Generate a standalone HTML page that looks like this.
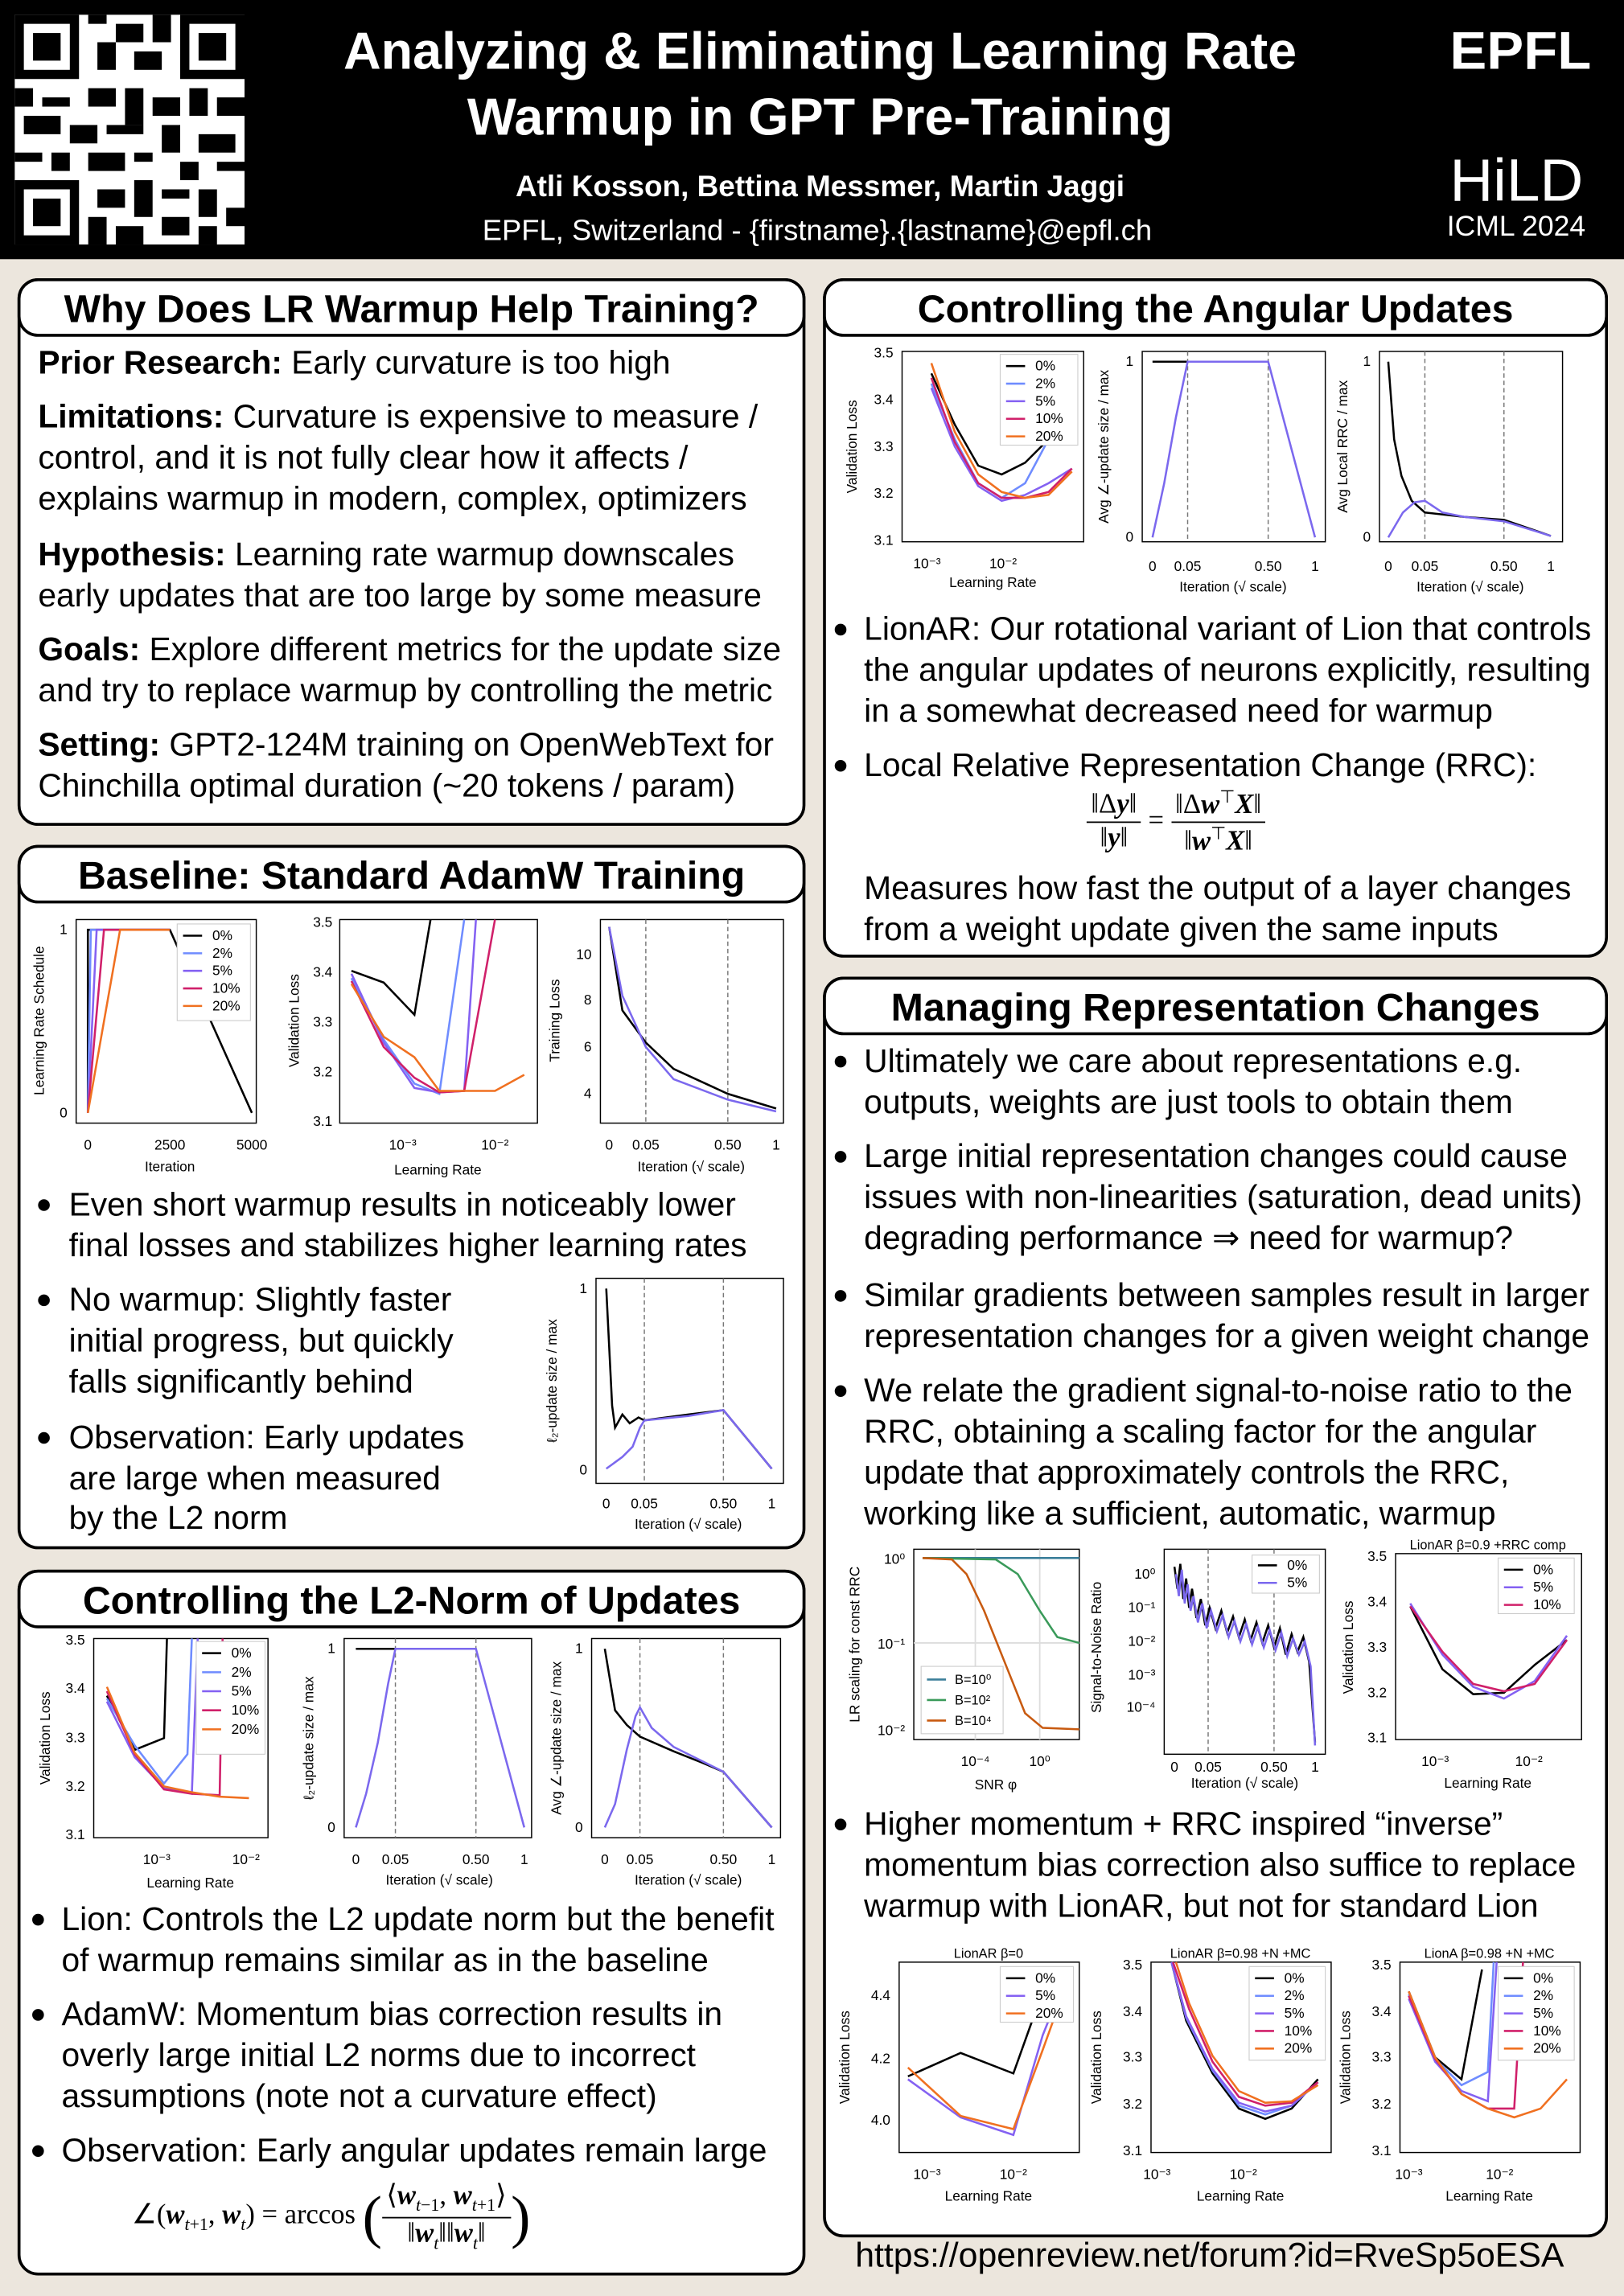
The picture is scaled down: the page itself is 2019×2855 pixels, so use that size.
<!DOCTYPE html>
<html><head><meta charset="utf-8"><style>
html,body{margin:0;padding:0;width:2019px;height:2855px;overflow:hidden;background:#ece6dd}
#pg{position:absolute;left:0;top:0;width:1109px;height:1568px;transform:scale(1.8206,1.8208);transform-origin:0 0;font-family:"Liberation Sans",Arial,sans-serif;color:#000}
.hdr{position:absolute;left:0;top:0;width:1109px;height:177px;background:#000}
.box{position:absolute;background:#fff;border:2px solid #000;border-radius:14px;box-sizing:border-box}
.pill{position:absolute;left:-2px;top:-2px;right:-2px;height:40px;border:2px solid #000;border-radius:14px;background:#fff;text-align:center;font-weight:bold;font-size:26.5px;line-height:38px;box-sizing:border-box}
.l{position:absolute;font-size:22.4px;line-height:28px;white-space:nowrap}
.b{position:absolute;width:8px;height:8px;border-radius:50%;background:#000}
svg text{font-family:"Liberation Sans",Arial,sans-serif}
.frac{display:inline-block;vertical-align:middle;text-align:center}
.frac span{display:block;padding:0 3px}
.frac .n{border-bottom:1.5px solid #000}
</style></head><body><div id="pg">
<div class="hdr"></div>
<svg style="position:absolute;left:10px;top:10px" width="157" height="157" viewBox="0 0 25 25">
<rect width="25" height="25" fill="#fff"/>
<g fill="#000">
<rect x="0" y="0" width="7" height="7"/><rect x="1" y="1" width="5" height="5" fill="#fff"/><rect x="2" y="2" width="3" height="3"/>
<rect x="18" y="0" width="7" height="7"/><rect x="19" y="1" width="5" height="5" fill="#fff"/><rect x="20" y="2" width="3" height="3"/>
<rect x="0" y="18" width="7" height="7"/><rect x="1" y="19" width="5" height="5" fill="#fff"/><rect x="2" y="20" width="3" height="3"/>
<rect x="8" y="0" width="2" height="1"/><rect x="11" y="1" width="3" height="2"/><rect x="15" y="0" width="2" height="3"/><rect x="9" y="3" width="2" height="3"/><rect x="13" y="4" width="3" height="2"/>
<rect x="8" y="8" width="3" height="2"/><rect x="0" y="8" width="2" height="2"/><rect x="3" y="9" width="3" height="1"/><rect x="1" y="11" width="4" height="2"/><rect x="6" y="12" width="3" height="2"/>
<rect x="12" y="8" width="2" height="4"/><rect x="15" y="9" width="3" height="2"/><rect x="19" y="8" width="2" height="3"/><rect x="22" y="9" width="3" height="2"/><rect x="10" y="12" width="4" height="1"/>
<rect x="16" y="12" width="2" height="3"/><rect x="20" y="13" width="4" height="2"/><rect x="0" y="15" width="3" height="1"/><rect x="4" y="15" width="2" height="2"/><rect x="8" y="15" width="4" height="2"/>
<rect x="13" y="15" width="2" height="1"/><rect x="18" y="16" width="2" height="2"/><rect x="22" y="16" width="3" height="1"/><rect x="9" y="19" width="3" height="2"/><rect x="13" y="18" width="2" height="4"/>
<rect x="16" y="19" width="3" height="1"/><rect x="20" y="19" width="2" height="3"/><rect x="23" y="21" width="2" height="2"/><rect x="8" y="22" width="2" height="3"/><rect x="11" y="23" width="3" height="2"/><rect x="16" y="22" width="3" height="2"/><rect x="20" y="23" width="2" height="2"/>
</g></svg>
<div style="position:absolute;left:170px;top:13px;width:780px;text-align:center;color:#fff;font-weight:bold;font-size:35.5px;line-height:45px">Analyzing &amp; Eliminating Learning Rate<br>Warmup in GPT Pre-Training</div>
<div style="position:absolute;left:170px;top:117px;width:780px;text-align:center;color:#fff;font-weight:bold;font-size:20.3px">Atli Kosson, Bettina Messmer, Martin Jaggi</div>
<div style="position:absolute;left:168px;top:147px;width:780px;text-align:center;color:#fff;font-size:20px">EPFL, Switzerland - {firstname}.{lastname}@epfl.ch</div>
<div style="position:absolute;left:990px;top:14px;color:#fff;font-weight:bold;font-size:36px;letter-spacing:0px;transform:scaleX(1.05);transform-origin:0 0">EPFL</div>
<div style="position:absolute;left:990px;top:100px;color:#fff;font-size:41px">HiLD</div>
<div style="position:absolute;left:988px;top:144px;color:#fff;font-size:19.5px">ICML 2024</div>

<div class="box" style="left:12px;top:190px;width:538px;height:374px"><div class="pill">Why Does LR Warmup Help Training?</div></div>
<div class="l" style="left:26px;top:234px"><b>Prior Research:</b> Early curvature is too high</div>
<div class="l" style="left:26px;top:271px"><b>Limitations:</b> Curvature is expensive to measure /</div>
<div class="l" style="left:26px;top:299px">control, and it is not fully clear how it affects /</div>
<div class="l" style="left:26px;top:327px">explains warmup in modern, complex, optimizers</div>
<div class="l" style="left:26px;top:365px"><b>Hypothesis:</b> Learning rate warmup downscales</div>
<div class="l" style="left:26px;top:393px">early updates that are too large by some measure</div>
<div class="l" style="left:26px;top:430px"><b>Goals:</b> Explore different metrics for the update size</div>
<div class="l" style="left:26px;top:458px">and try to replace warmup by controlling the metric</div>
<div class="l" style="left:26px;top:495px"><b>Setting:</b> GPT2-124M training on OpenWebText for</div>
<div class="l" style="left:26px;top:523px">Chinchilla optimal duration (~20 tokens / param)</div>

<div class="box" style="left:12px;top:577px;width:538px;height:481px"><div class="pill">Baseline: Standard AdamW Training</div></div>
<div class="b" style="left:26px;top:819px"></div>
<div class="l" style="left:47px;top:809px">Even short warmup results in noticeably lower</div>
<div class="l" style="left:47px;top:837px">final losses and stabilizes higher learning rates</div>
<div class="b" style="left:26px;top:884px"></div>
<div class="l" style="left:47px;top:874px">No warmup: Slightly faster</div>
<div class="l" style="left:47px;top:902px">initial progress, but quickly</div>
<div class="l" style="left:47px;top:930px">falls significantly behind</div>
<div class="b" style="left:26px;top:978px"></div>
<div class="l" style="left:47px;top:968px">Observation: Early updates</div>
<div class="l" style="left:47px;top:996px">are large when measured</div>
<div class="l" style="left:47px;top:1023px">by the L2 norm</div>

<div class="box" style="left:12px;top:1072px;width:538px;height:482px"><div class="pill">Controlling the L2-Norm of Updates</div></div>
<div class="b" style="left:22px;top:1307px"></div>
<div class="l" style="left:42px;top:1297px">Lion: Controls the L2 update norm but the benefit</div>
<div class="l" style="left:42px;top:1325px">of warmup remains similar as in the baseline</div>
<div class="b" style="left:22px;top:1372px"></div>
<div class="l" style="left:42px;top:1362px">AdamW: Momentum bias correction results in</div>
<div class="l" style="left:42px;top:1390px">overly large initial L2 norms due to incorrect</div>
<div class="l" style="left:42px;top:1418px">assumptions (note not a curvature effect)</div>
<div class="b" style="left:22px;top:1465px"></div>
<div class="l" style="left:42px;top:1455px">Observation: Early angular updates remain large</div>
<div style="position:absolute;left:90px;top:1488px;font-family:'Liberation Serif',serif;font-size:19px;white-space:nowrap">∠(<b><i>w</i></b><sub style="font-size:12px"><i>t</i>+1</sub>, <b><i>w</i></b><sub style="font-size:12px"><i>t</i></sub>) = arccos <span style="font-size:40px;vertical-align:middle">(</span><span class="frac"><span class="n">⟨<b><i>w</i></b><sub style="font-size:12px"><i>t</i>−1</sub>, <b><i>w</i></b><sub style="font-size:12px"><i>t</i>+1</sub>⟩</span><span>‖<b><i>w</i></b><sub style="font-size:12px"><i>t</i></sub>‖‖<b><i>w</i></b><sub style="font-size:12px"><i>t</i></sub>‖</span></span><span style="font-size:40px;vertical-align:middle">)</span></div>

<div class="box" style="left:562px;top:190px;width:536px;height:464px"><div class="pill">Controlling the Angular Updates</div></div>
<div class="b" style="left:570px;top:426px"></div>
<div class="l" style="left:590px;top:416px">LionAR: Our rotational variant of Lion that controls</div>
<div class="l" style="left:590px;top:444px">the angular updates of neurons explicitly, resulting</div>
<div class="l" style="left:590px;top:472px">in a somewhat decreased need for warmup</div>
<div class="b" style="left:570px;top:519px"></div>
<div class="l" style="left:590px;top:509px">Local Relative Representation Change (RRC):</div>
<div style="position:absolute;left:742px;top:537px;font-family:'Liberation Serif',serif;font-size:19px;white-space:nowrap"><span class="frac"><span class="n">‖Δ<b><i>y</i></b>‖</span><span>‖<b><i>y</i></b>‖</span></span> = <span class="frac"><span class="n">‖Δ<b><i>w</i></b><sup style="font-size:12px">⊤</sup><b><i>X</i></b>‖</span><span>‖<b><i>w</i></b><sup style="font-size:12px">⊤</sup><b><i>X</i></b>‖</span></span></div>
<div class="l" style="left:590px;top:593px">Measures how fast the output of a layer changes</div>
<div class="l" style="left:590px;top:621px">from a weight update given the same inputs</div>

<div class="box" style="left:562px;top:667px;width:536px;height:861px"><div class="pill">Managing Representation Changes</div></div>
<div class="b" style="left:570px;top:721px"></div>
<div class="l" style="left:590px;top:711px">Ultimately we care about representations e.g.</div>
<div class="l" style="left:590px;top:739px">outputs, weights are just tools to obtain them</div>
<div class="b" style="left:570px;top:786px"></div>
<div class="l" style="left:590px;top:776px">Large initial representation changes could cause</div>
<div class="l" style="left:590px;top:804px">issues with non-linearities (saturation, dead units)</div>
<div class="l" style="left:590px;top:832px">degrading performance ⇒ need for warmup?</div>
<div class="b" style="left:570px;top:881px"></div>
<div class="l" style="left:590px;top:871px">Similar gradients between samples result in larger</div>
<div class="l" style="left:590px;top:899px">representation changes for a given weight change</div>
<div class="b" style="left:570px;top:946px"></div>
<div class="l" style="left:590px;top:936px">We relate the gradient signal-to-noise ratio to the</div>
<div class="l" style="left:590px;top:964px">RRC, obtaining a scaling factor for the angular</div>
<div class="l" style="left:590px;top:992px">update that approximately controls the RRC,</div>
<div class="l" style="left:590px;top:1020px">working like a sufficient, automatic, warmup</div>
<div class="b" style="left:570px;top:1242px"></div>
<div class="l" style="left:590px;top:1232px">Higher momentum + RRC inspired “inverse”</div>
<div class="l" style="left:590px;top:1260px">momentum bias correction also suffice to replace</div>
<div class="l" style="left:590px;top:1288px">warmup with LionAR, but not for standard Lion</div>
<div style="position:absolute;left:558px;top:1527px;width:536px;text-align:center;font-size:23.5px">https://openreview.net/forum?id=RveSp5oESA</div>

<svg style="position:absolute;left:0;top:0" width="1109" height="1568" viewBox="0 0 1109 1568" font-size="9.5">
<style>.ax{fill:none;stroke:#000;stroke-width:.8}.d{stroke:#777;stroke-width:.8;stroke-dasharray:3 2}.ln{fill:none;stroke-width:1.4}.k{stroke:#000}.c2{stroke:#6f8cff}.c5{stroke:#8461f2}.c10{stroke:#d0206a}.c20{stroke:#f07020}.pu{stroke:#7b68ee}.lg{fill:#fff;stroke:#ccc;stroke-width:.6}</style>
<rect class="ax" x="52" y="628" width="123" height="139"/>
<text x="46" y="638" text-anchor="end">1</text><text x="46" y="763" text-anchor="end">0</text>
<text x="60" y="785" text-anchor="middle">0</text><text x="116" y="785" text-anchor="middle">2500</text><text x="172" y="785" text-anchor="middle">5000</text>
<text x="116" y="800" text-anchor="middle">Iteration</text>
<text transform="translate(30,697) rotate(-90)" text-anchor="middle">Learning Rate Schedule</text>
<polyline class="ln k" points="60,760 60,635 116,635 172,760"/>
<polyline class="ln c2" points="60,760 62,635 116,635"/>
<polyline class="ln c5" points="60,760 66,635 116,635"/>
<polyline class="ln c10" points="60,760 71,635 116,635"/>
<polyline class="ln c20" points="60,760 82,635 116,635"/>
<rect class="lg" x="121" y="631" width="50" height="66"/>
<g font-size="9.5"><line class="ln k" x1="125" y1="639" x2="138" y2="639"/><text x="145" y="642">0%</text>
<line class="ln c2" x1="125" y1="651" x2="138" y2="651"/><text x="145" y="654">2%</text>
<line class="ln c5" x1="125" y1="663" x2="138" y2="663"/><text x="145" y="666">5%</text>
<line class="ln c10" x1="125" y1="675" x2="138" y2="675"/><text x="145" y="678">10%</text>
<line class="ln c20" x1="125" y1="687" x2="138" y2="687"/><text x="145" y="690">20%</text></g>
<rect class="ax" x="232" y="628" width="135" height="139"/>
<text x="227" y="633" text-anchor="end">3.5</text><text x="227" y="667" text-anchor="end">3.4</text><text x="227" y="701" text-anchor="end">3.3</text><text x="227" y="735" text-anchor="end">3.2</text><text x="227" y="769" text-anchor="end">3.1</text>
<text x="275" y="785" text-anchor="middle">10⁻³</text><text x="338" y="785" text-anchor="middle">10⁻²</text>
<text x="299" y="802" text-anchor="middle">Learning Rate</text>
<text transform="translate(204,697) rotate(-90)" text-anchor="middle">Validation Loss</text>
<polyline class="ln k" points="240,663 262,671 283,693 294,628"/>
<polyline class="ln c2" points="240,668 262,710 283,740 300,747 317,628"/>
<polyline class="ln c5" points="240,665 262,712 283,743 300,746 317,745 325,628"/>
<polyline class="ln c10" points="240,670 262,715 283,736 300,746 317,745 338,628"/>
<polyline class="ln c20" points="240,672 262,708 283,722 300,745 317,745 338,745 358,734"/>
<rect class="ax" x="410" y="628" width="125" height="139"/>
<text x="404" y="655" text-anchor="end">10</text><text x="404" y="686" text-anchor="end">8</text><text x="404" y="718" text-anchor="end">6</text><text x="404" y="750" text-anchor="end">4</text>
<text x="416" y="785" text-anchor="middle">0</text><text x="441" y="785" text-anchor="middle">0.05</text><text x="497" y="785" text-anchor="middle">0.50</text><text x="530" y="785" text-anchor="middle">1</text>
<text x="472" y="800" text-anchor="middle">Iteration (√ scale)</text>
<text transform="translate(382,697) rotate(-90)" text-anchor="middle">Training Loss</text>
<line class="d" x1="441" y1="628" x2="441" y2="767"/><line class="d" x1="497" y1="628" x2="497" y2="767"/>
<polyline class="ln k" points="416,633 425,690 441,712 460,730 497,747 530,757"/>
<polyline class="ln pu" points="416,633 425,680 441,715 460,737 497,751 530,759"/>
<rect class="ax" x="407" y="873" width="128" height="140"/>
<text x="401" y="883" text-anchor="end">1</text><text x="401" y="1007" text-anchor="end">0</text>
<text x="414" y="1030" text-anchor="middle">0</text><text x="440" y="1030" text-anchor="middle">0.05</text><text x="494" y="1030" text-anchor="middle">0.50</text><text x="527" y="1030" text-anchor="middle">1</text>
<text x="470" y="1044" text-anchor="middle">Iteration (√ scale)</text>
<text transform="translate(380,943) rotate(-90)" text-anchor="middle">ℓ₂-update size / max</text>
<line class="d" x1="440" y1="873" x2="440" y2="1013"/><line class="d" x1="494" y1="873" x2="494" y2="1013"/>
<polyline class="ln k" points="414,880 418,960 420,975 425,966 430,972 436,968 440,970 470,966 494,963 527,1003"/>
<polyline class="ln pu" points="414,1003 425,995 432,988 437,975 440,970 470,967 494,963 527,1003"/>
<rect class="ax" x="64" y="1119" width="119" height="136"/>
<text x="58" y="1123" text-anchor="end">3.5</text><text x="58" y="1156" text-anchor="end">3.4</text><text x="58" y="1190" text-anchor="end">3.3</text><text x="58" y="1223" text-anchor="end">3.2</text><text x="58" y="1256" text-anchor="end">3.1</text>
<text x="107" y="1273" text-anchor="middle">10⁻³</text><text x="168" y="1273" text-anchor="middle">10⁻²</text>
<text x="130" y="1289" text-anchor="middle">Learning Rate</text>
<text transform="translate(34,1187) rotate(-90)" text-anchor="middle">Validation Loss</text>
<polyline class="ln k" points="73,1158 92,1195 112,1187 114,1119"/>
<polyline class="ln c2" points="73,1160 92,1192 112,1218 128,1198 131,1119"/>
<polyline class="ln c5" points="73,1162 92,1200 112,1221 131,1225 135,1119"/>
<polyline class="ln c10" points="73,1155 92,1198 112,1222 131,1225 150,1226 152,1119"/>
<polyline class="ln c20" points="73,1152 92,1197 112,1220 131,1224 150,1227 170,1228"/>
<rect class="lg" x="134" y="1121" width="47" height="77"/>
<g><line class="ln k" x1="138" y1="1129" x2="151" y2="1129"/><text x="158" y="1132">0%</text>
<line class="ln c2" x1="138" y1="1142" x2="151" y2="1142"/><text x="158" y="1145">2%</text>
<line class="ln c5" x1="138" y1="1155" x2="151" y2="1155"/><text x="158" y="1158">5%</text>
<line class="ln c10" x1="138" y1="1168" x2="151" y2="1168"/><text x="158" y="1171">10%</text>
<line class="ln c20" x1="138" y1="1181" x2="151" y2="1181"/><text x="158" y="1184">20%</text></g>
<rect class="ax" x="235" y="1119" width="128" height="136"/>
<text x="229" y="1129" text-anchor="end">1</text><text x="229" y="1251" text-anchor="end">0</text>
<text x="243" y="1273" text-anchor="middle">0</text><text x="270" y="1273" text-anchor="middle">0.05</text><text x="325" y="1273" text-anchor="middle">0.50</text><text x="358" y="1273" text-anchor="middle">1</text>
<text x="300" y="1287" text-anchor="middle">Iteration (√ scale)</text>
<text transform="translate(214,1187) rotate(-90)" text-anchor="middle">ℓ₂-update size / max</text>
<line class="d" x1="270" y1="1119" x2="270" y2="1255"/><line class="d" x1="325" y1="1119" x2="325" y2="1255"/>
<polyline class="ln k" points="243,1126 270,1126"/>
<polyline class="ln pu" points="243,1248 250,1225 258,1190 265,1150 270,1126 325,1126 358,1248"/>
<rect class="ax" x="404" y="1119" width="129" height="136"/>
<text x="398" y="1129" text-anchor="end">1</text><text x="398" y="1251" text-anchor="end">0</text>
<text x="413" y="1273" text-anchor="middle">0</text><text x="437" y="1273" text-anchor="middle">0.05</text><text x="494" y="1273" text-anchor="middle">0.50</text><text x="527" y="1273" text-anchor="middle">1</text>
<text x="470" y="1287" text-anchor="middle">Iteration (√ scale)</text>
<text transform="translate(383,1187) rotate(-90)" text-anchor="middle">Avg ∠-update size / max</text>
<line class="d" x1="437" y1="1119" x2="437" y2="1255"/><line class="d" x1="494" y1="1119" x2="494" y2="1255"/>
<polyline class="ln k" points="413,1126 420,1168 428,1178 437,1186 460,1196 480,1204 494,1210 527,1248"/>
<polyline class="ln pu" points="413,1248 420,1232 428,1195 434,1172 437,1166 445,1180 460,1193 480,1203 494,1210 527,1248"/>
<rect class="ax" x="616" y="240" width="124" height="130"/>
<text x="610" y="244" text-anchor="end">3.5</text><text x="610" y="276" text-anchor="end">3.4</text><text x="610" y="308" text-anchor="end">3.3</text><text x="610" y="340" text-anchor="end">3.2</text><text x="610" y="372" text-anchor="end">3.1</text>
<text x="633" y="388" text-anchor="middle">10⁻³</text><text x="685" y="388" text-anchor="middle">10⁻²</text>
<text x="678" y="401" text-anchor="middle">Learning Rate</text>
<text transform="translate(585,305) rotate(-90)" text-anchor="middle">Validation Loss</text>
<polyline class="ln k" points="636,255 652,290 668,318 684,324 700,316 716,300"/>
<polyline class="ln c2" points="636,262 652,300 668,330 684,340 700,330 716,300 732,282"/>
<polyline class="ln c5" points="636,265 652,305 668,332 684,342 700,338 716,330 732,320"/>
<polyline class="ln c10" points="636,258 652,302 668,330 684,340 700,340 716,336 732,320"/>
<polyline class="ln c20" points="636,248 652,295 668,324 684,336 700,340 716,338 732,322"/>
<rect class="lg" x="683" y="242" width="53" height="62"/>
<g><line class="ln k" x1="687" y1="250" x2="700" y2="250"/><text x="707" y="253">0%</text>
<line class="ln c2" x1="687" y1="262" x2="700" y2="262"/><text x="707" y="265">2%</text>
<line class="ln c5" x1="687" y1="274" x2="700" y2="274"/><text x="707" y="277">5%</text>
<line class="ln c10" x1="687" y1="286" x2="700" y2="286"/><text x="707" y="289">10%</text>
<line class="ln c20" x1="687" y1="298" x2="700" y2="298"/><text x="707" y="301">20%</text></g>
<rect class="ax" x="780" y="240" width="125" height="130"/>
<text x="774" y="250" text-anchor="end">1</text><text x="774" y="370" text-anchor="end">0</text>
<text x="787" y="390" text-anchor="middle">0</text><text x="811" y="390" text-anchor="middle">0.05</text><text x="866" y="390" text-anchor="middle">0.50</text><text x="898" y="390" text-anchor="middle">1</text>
<text x="842" y="404" text-anchor="middle">Iteration (√ scale)</text>
<text transform="translate(757,305) rotate(-90)" text-anchor="middle">Avg ∠-update size / max</text>
<line class="d" x1="811" y1="240" x2="811" y2="370"/><line class="d" x1="866" y1="240" x2="866" y2="370"/>
<polyline class="ln k" points="787,247 811,247"/>
<polyline class="ln pu" points="787,367 795,330 803,285 811,247 866,247 898,367"/>
<rect class="ax" x="942" y="240" width="125" height="130"/>
<text x="936" y="250" text-anchor="end">1</text><text x="936" y="370" text-anchor="end">0</text>
<text x="948" y="390" text-anchor="middle">0</text><text x="973" y="390" text-anchor="middle">0.05</text><text x="1027" y="390" text-anchor="middle">0.50</text><text x="1059" y="390" text-anchor="middle">1</text>
<text x="1004" y="404" text-anchor="middle">Iteration (√ scale)</text>
<text transform="translate(920,305) rotate(-90)" text-anchor="middle">Avg Local RRC / max</text>
<line class="d" x1="973" y1="240" x2="973" y2="370"/><line class="d" x1="1027" y1="240" x2="1027" y2="370"/>
<polyline class="ln k" points="948,247 952,300 957,325 964,342 973,350 1000,353 1027,355 1059,366"/>
<polyline class="ln pu" points="948,367 958,350 966,343 973,342 985,350 1000,353 1027,356 1059,366"/>
<rect class="ax" x="624" y="1058" width="113" height="130"/>
<text x="618" y="1068" text-anchor="end">10⁰</text><text x="618" y="1126" text-anchor="end">10⁻¹</text><text x="618" y="1185" text-anchor="end">10⁻²</text>
<text x="666" y="1206" text-anchor="middle">10⁻⁴</text><text x="710" y="1206" text-anchor="middle">10⁰</text>
<text x="680" y="1222" text-anchor="middle">SNR φ</text>
<text transform="translate(587,1123) rotate(-90)" text-anchor="middle">LR scaling for const RRC</text>
<line stroke="#ddd" x1="666" y1="1058" x2="666" y2="1188"/><line stroke="#ddd" x1="710" y1="1058" x2="710" y2="1188"/><line stroke="#ddd" x1="624" y1="1122" x2="737" y2="1122"/>
<polyline class="ln" stroke="#3b7f9a" points="630,1064 737,1064"/>
<polyline class="ln" stroke="#3a9a5a" points="630,1064 680,1065 695,1075 710,1100 722,1118 737,1122"/>
<polyline class="ln" stroke="#c85a10" points="630,1064 650,1065 660,1075 672,1100 688,1140 700,1170 712,1180 737,1181"/>
<rect class="lg" x="629" y="1138" width="56" height="46"/>
<g font-size="9"><line class="ln" stroke="#3b7f9a" x1="633" y1="1147" x2="646" y2="1147"/><text x="652" y="1150">B=10⁰</text>
<line class="ln" stroke="#3a9a5a" x1="633" y1="1161" x2="646" y2="1161"/><text x="652" y="1164">B=10²</text>
<line class="ln" stroke="#c85a10" x1="633" y1="1175" x2="646" y2="1175"/><text x="652" y="1178">B=10⁴</text></g>
<rect class="ax" x="795" y="1058" width="110" height="140"/>
<text x="789" y="1078" text-anchor="end">10⁰</text><text x="789" y="1101" text-anchor="end">10⁻¹</text><text x="789" y="1124" text-anchor="end">10⁻²</text><text x="789" y="1147" text-anchor="end">10⁻³</text><text x="789" y="1169" text-anchor="end">10⁻⁴</text>
<text x="802" y="1210" text-anchor="middle">0</text><text x="825" y="1210" text-anchor="middle">0.05</text><text x="870" y="1210" text-anchor="middle">0.50</text><text x="898" y="1210" text-anchor="middle">1</text>
<text x="850" y="1221" text-anchor="middle">Iteration (√ scale)</text>
<text transform="translate(752,1125) rotate(-90)" text-anchor="middle">Signal-to-Noise Ratio</text>
<line class="d" x1="825" y1="1058" x2="825" y2="1198"/><line class="d" x1="870" y1="1058" x2="870" y2="1198"/>
<polyline class="ln k" stroke-width="1" points="802,1070 804,1085 806,1068 808,1092 810,1078 812,1098 814,1085 817,1105 820,1092 823,1110 826,1098 830,1112 834,1100 838,1115 842,1104 846,1118 850,1106 854,1120 858,1108 862,1122 866,1110 870,1125 874,1112 878,1130 882,1116 886,1128 890,1118 894,1135 898,1190"/>
<polyline class="ln pu" stroke-width="1" points="803,1075 805,1090 807,1072 809,1095 811,1082 813,1100 815,1090 818,1108 821,1095 824,1112 827,1100 831,1114 835,1103 839,1118 843,1107 847,1121 851,1109 855,1123 859,1111 863,1125 867,1113 871,1127 875,1115 879,1131 883,1119 887,1130 891,1121 895,1138 898,1192"/>
<rect class="lg" x="855" y="1062" width="46" height="26"/>
<line class="ln k" x1="859" y1="1069" x2="872" y2="1069"/><text x="879" y="1072">0%</text>
<line class="ln pu" x1="859" y1="1081" x2="872" y2="1081"/><text x="879" y="1084">5%</text>
<text x="1016" y="1058" text-anchor="middle" font-size="9">LionAR β=0.9 +RRC comp</text>
<rect class="ax" x="953" y="1061" width="127" height="127"/>
<text x="947" y="1066" text-anchor="end">3.5</text><text x="947" y="1097" text-anchor="end">3.4</text><text x="947" y="1128" text-anchor="end">3.3</text><text x="947" y="1159" text-anchor="end">3.2</text><text x="947" y="1190" text-anchor="end">3.1</text>
<text x="980" y="1206" text-anchor="middle">10⁻³</text><text x="1044" y="1206" text-anchor="middle">10⁻²</text>
<text x="1016" y="1221" text-anchor="middle">Learning Rate</text>
<text transform="translate(924,1125) rotate(-90)" text-anchor="middle">Validation Loss</text>
<polyline class="ln k" points="963,1097 985,1140 1006,1157 1027,1156 1048,1137 1070,1120"/>
<polyline class="ln c5" points="963,1095 985,1130 1006,1152 1027,1160 1048,1148 1070,1117"/>
<polyline class="ln c10" points="963,1097 985,1128 1006,1150 1027,1155 1048,1150 1070,1120"/>
<rect class="lg" x="1023" y="1064" width="52" height="38"/>
<line class="ln k" x1="1027" y1="1072" x2="1040" y2="1072"/><text x="1047" y="1075">0%</text>
<line class="ln c5" x1="1027" y1="1084" x2="1040" y2="1084"/><text x="1047" y="1087">5%</text>
<line class="ln c10" x1="1027" y1="1096" x2="1040" y2="1096"/><text x="1047" y="1099">10%</text>
<text x="675" y="1337" text-anchor="middle" font-size="9">LionAR β=0</text>
<rect class="ax" x="614" y="1340" width="123" height="130"/>
<text x="608" y="1366" text-anchor="end">4.4</text><text x="608" y="1409" text-anchor="end">4.2</text><text x="608" y="1451" text-anchor="end">4.0</text>
<text x="633" y="1488" text-anchor="middle">10⁻³</text><text x="692" y="1488" text-anchor="middle">10⁻²</text>
<text x="675" y="1503" text-anchor="middle">Learning Rate</text>
<text transform="translate(580,1405) rotate(-90)" text-anchor="middle">Validation Loss</text>
<polyline class="ln k" points="620,1418 656,1402 692,1416 712,1360"/>
<polyline class="ln c5" points="620,1420 656,1446 692,1458 712,1390 730,1345"/>
<polyline class="ln c20" points="620,1412 656,1445 692,1454 712,1400 730,1350"/>
<rect class="lg" x="683" y="1343" width="50" height="38"/>
<line class="ln k" x1="687" y1="1351" x2="700" y2="1351"/><text x="707" y="1354">0%</text>
<line class="ln c5" x1="687" y1="1363" x2="700" y2="1363"/><text x="707" y="1366">5%</text>
<line class="ln c20" x1="687" y1="1375" x2="700" y2="1375"/><text x="707" y="1378">20%</text>
<text x="847" y="1337" text-anchor="middle" font-size="9">LionAR β=0.98 +N +MC</text>
<rect class="ax" x="786" y="1340" width="123" height="130"/>
<text x="780" y="1345" text-anchor="end">3.5</text><text x="780" y="1377" text-anchor="end">3.4</text><text x="780" y="1408" text-anchor="end">3.3</text><text x="780" y="1440" text-anchor="end">3.2</text><text x="780" y="1472" text-anchor="end">3.1</text>
<text x="790" y="1488" text-anchor="middle">10⁻³</text><text x="849" y="1488" text-anchor="middle">10⁻²</text>
<text x="847" y="1503" text-anchor="middle">Learning Rate</text>
<text transform="translate(752,1405) rotate(-90)" text-anchor="middle">Validation Loss</text>
<polyline class="ln k" points="800,1340 810,1380 828,1416 846,1440 864,1447 882,1440 900,1420"/>
<polyline class="ln c2" points="800,1340 810,1378 828,1414 846,1438 864,1444 882,1438 900,1422"/>
<polyline class="ln c5" points="800,1340 810,1377 828,1413 846,1436 864,1442 882,1438 900,1422"/>
<polyline class="ln c10" points="801,1340 812,1372 828,1408 846,1432 864,1438 882,1436 900,1422"/>
<polyline class="ln c20" points="803,1340 812,1368 828,1404 846,1428 864,1436 882,1435 900,1424"/>
<rect class="lg" x="853" y="1343" width="52" height="64"/>
<g><line class="ln k" x1="857" y1="1351" x2="870" y2="1351"/><text x="877" y="1354">0%</text>
<line class="ln c2" x1="857" y1="1363" x2="870" y2="1363"/><text x="877" y="1366">2%</text>
<line class="ln c5" x1="857" y1="1375" x2="870" y2="1375"/><text x="877" y="1378">5%</text>
<line class="ln c10" x1="857" y1="1387" x2="870" y2="1387"/><text x="877" y="1390">10%</text>
<line class="ln c20" x1="857" y1="1399" x2="870" y2="1399"/><text x="877" y="1402">20%</text></g>
<text x="1017" y="1337" text-anchor="middle" font-size="9">LionA β=0.98 +N +MC</text>
<rect class="ax" x="956" y="1340" width="123" height="130"/>
<text x="950" y="1345" text-anchor="end">3.5</text><text x="950" y="1377" text-anchor="end">3.4</text><text x="950" y="1408" text-anchor="end">3.3</text><text x="950" y="1440" text-anchor="end">3.2</text><text x="950" y="1472" text-anchor="end">3.1</text>
<text x="962" y="1488" text-anchor="middle">10⁻³</text><text x="1024" y="1488" text-anchor="middle">10⁻²</text>
<text x="1017" y="1503" text-anchor="middle">Learning Rate</text>
<text transform="translate(922,1405) rotate(-90)" text-anchor="middle">Validation Loss</text>
<polyline class="ln k" points="962,1360 980,1405 998,1420 1012,1345"/>
<polyline class="ln c2" points="962,1362 980,1406 998,1424 1016,1415 1020,1340"/>
<polyline class="ln c5" points="962,1365 980,1408 998,1428 1016,1435 1022,1340"/>
<polyline class="ln c10" points="962,1363 980,1406 998,1430 1016,1440 1034,1440 1040,1340"/>
<polyline class="ln c20" points="962,1360 980,1405 998,1430 1016,1440 1034,1446 1052,1440 1070,1420"/>
<rect class="lg" x="1023" y="1343" width="52" height="64"/>
<g><line class="ln k" x1="1027" y1="1351" x2="1040" y2="1351"/><text x="1047" y="1354">0%</text>
<line class="ln c2" x1="1027" y1="1363" x2="1040" y2="1363"/><text x="1047" y="1366">2%</text>
<line class="ln c5" x1="1027" y1="1375" x2="1040" y2="1375"/><text x="1047" y="1378">5%</text>
<line class="ln c10" x1="1027" y1="1387" x2="1040" y2="1387"/><text x="1047" y="1390">10%</text>
<line class="ln c20" x1="1027" y1="1399" x2="1040" y2="1399"/><text x="1047" y="1402">20%</text></g>
</svg>
</div></body></html>
